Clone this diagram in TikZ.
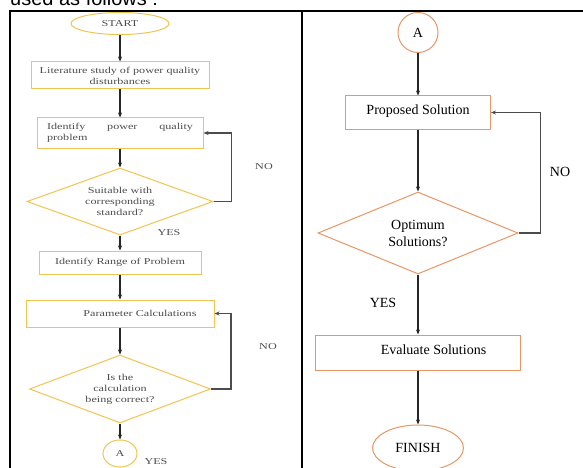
\documentclass[tikz,border=0pt]{standalone}
\usepackage{fontspec}
\setmainfont{Liberation Serif}
\newfontfamily\capfont{Liberation Sans}
\newfontfamily\wideserif[FakeStretch=1.35]{Liberation Serif}
\usetikzlibrary{positioning,arrows.meta,shapes.geometric}

\definecolor{gold}{RGB}{240,196,80}
\definecolor{peach}{RGB}{232,150,100}

\begin{document}
\begin{tikzpicture}[
  x=1pt, y=-1pt,
  smallfont/.style={font=\wideserif\fontsize{9}{11}\selectfont, text=black!70},
  bigfont/.style={font=\fontsize{14}{17}\selectfont, text=black},
  leftbox/.style={draw=gold, line width=1pt, align=center, inner sep=1pt, smallfont},
  leftdia/.style={diamond, aspect=2.8, draw=gold, line width=1pt, align=center, inner sep=0pt, smallfont},
  rightbox/.style={draw=peach, line width=1pt, align=center, inner sep=1pt, bigfont},
  rightdia/.style={diamond, aspect=2.4, draw=peach, line width=1pt, align=center, inner sep=0pt, bigfont},
  arr/.style={-{Stealth[length=5pt,width=4pt]}, line width=1.1pt, black!85},
  backarr/.style={arr, black!70},
  leftlbl/.style={smallfont},
  rightlbl/.style={bigfont}
]
\useasboundingbox (0,0) rectangle (583,468);

% caption line and table frame
\node[font=\capfont\fontsize{20}{24}\selectfont, anchor=base west, inner sep=0pt] (caption) at (10,6) {used as follows :};
\draw[line width=2pt] (10,470) -- (10,11) -- (585,11);
\draw[line width=2pt] (302,11) -- (302,470);

% left column
\node[leftbox, ellipse, minimum width=98pt, minimum height=22pt] (start) at (120,23.5) {START};
\node[leftbox, minimum width=178pt, minimum height=27pt, below=26.5pt of start] (lit) {Literature study of power quality\\disturbances};
\node[leftbox, align=left, text width=146pt, inner xsep=10pt, minimum height=30pt, below=28pt of lit] (ident) {Identify\hfill power\hfill quality\\problem};
\node[leftdia, minimum width=186pt, minimum height=67pt, below=19pt of ident] (suit) {Suitable with\\corresponding\\standard?};
\node[leftbox, minimum width=162pt, minimum height=23pt, below=15pt of suit] (range) {Identify Range of Problem};
\node[leftbox, minimum width=188pt, minimum height=27pt, below=25pt of range] (param) {\hspace*{40pt}Parameter Calculations};
\node[leftdia, minimum width=181pt, minimum height=68pt, below=27pt of param] (calc) {Is the\\calculation\\being correct?};
\node[leftbox, ellipse, minimum width=34pt, minimum height=27pt, below=16pt of calc] (a1) {A};
\coordinate (a1end) at (120,472);

\node[leftlbl] (no1) at (264,167) {NO};
\node[leftlbl] (yes1) at (169,233) {YES};
\node[leftlbl] (no2) at (268,347) {NO};
\node[leftlbl] (yes2) at (156,462) {YES};

\draw[arr] (start) -- (lit);
\draw[arr] (lit) -- (ident);
\draw[arr] (ident) -- (suit);
\draw[arr] (suit) -- (range);
\draw[arr] (range) -- (param);
\draw[arr] (param) -- (calc);
\draw[arr] (calc) -- (a1);
\draw[line width=1.1pt, black!85] (a1) -- (a1end);
\draw[backarr] (suit.east) -- ++(18,0) |- (ident.east);
\draw[backarr] (calc.east) -- ++(20,0) |- (param.east);

% right column
\node[rightbox, circle, minimum size=40pt] (a2) at (418,32.5) {A};
\node[rightbox, minimum width=145pt, minimum height=33pt, below=42.5pt of a2] (prop) {\raisebox{6pt}{Proposed Solution}};
\node[rightdia, minimum width=200pt, minimum height=82pt, below=62pt of prop] (opt) {Optimum\\Solutions?};
\node[rightbox, minimum width=205pt, minimum height=35pt, below=60pt of opt] (eval) {\hspace*{31pt}\raisebox{5pt}{Evaluate Solutions}};
\node[rightbox, ellipse, minimum width=91pt, minimum height=46pt, below=54pt of eval] (finish) {FINISH};

\node[rightlbl] (no3) at (560,172) {NO};
\node[rightlbl] (yes3) at (383,303) {YES};

\draw[arr] (a2) -- (prop);
\draw[arr] (prop) -- (opt);
\draw[arr] (opt) -- (eval);
\draw[arr] (eval) -- (finish);
\draw[backarr] (opt.east) -- ++(22,0) |- (prop.east);
\end{tikzpicture}
\end{document}
